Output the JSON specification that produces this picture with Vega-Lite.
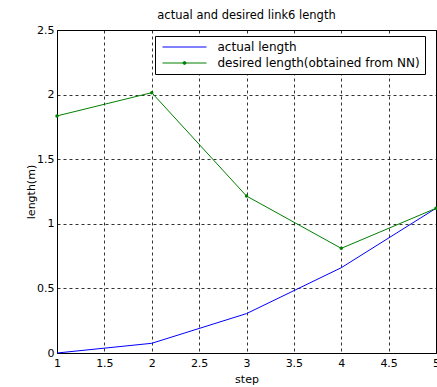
{
  "$schema": "https://vega.github.io/schema/vega-lite/v6.json",
  "autosize": "none",
  "width": 379,
  "height": 323,
  "padding": {"left": 57, "top": 30, "right": 1, "bottom": 34},
  "background": "white",
  "title": {"text": "actual and desired link6 length", "font": "DejaVu Sans", "fontSize": 11.5, "fontWeight": "normal", "color": "#000000", "offset": 3},
  "config": {
    "view": {"stroke": "#000000", "strokeWidth": 1},
    "axis": {"labelFont": "DejaVu Sans", "titleFont": "DejaVu Sans", "labelFontSize": 11, "titleFontSize": 11, "titleFontWeight": "normal", "labelColor": "#000000", "titleColor": "#000000", "domainColor": "#000000", "tickColor": "#000000", "gridColor": "#000000", "gridDash": [3, 3], "gridOpacity": 0.8, "gridWidth": 1}
  },
  "data": {"values": [
    {"step": 1, "length": 0.0, "series": "actual length"},
    {"step": 2, "length": 0.075, "series": "actual length"},
    {"step": 3, "length": 0.305, "series": "actual length"},
    {"step": 4, "length": 0.66, "series": "actual length"},
    {"step": 5, "length": 1.12, "series": "actual length"},
    {"step": 1, "length": 1.835, "series": "desired length(obtained from NN)"},
    {"step": 2, "length": 2.015, "series": "desired length(obtained from NN)"},
    {"step": 3, "length": 1.215, "series": "desired length(obtained from NN)"},
    {"step": 4, "length": 0.81, "series": "desired length(obtained from NN)"},
    {"step": 5, "length": 1.12, "series": "desired length(obtained from NN)"}
  ]},
  "layer": [
    {
      "mark": {"type": "line", "strokeWidth": 1, "point": false},
      "encoding": {
        "x": {"field": "step", "type": "quantitative", "scale": {"domain": [1, 5], "nice": false, "zero": false}, "axis": {"title": "step", "values": [1, 1.5, 2, 2.5, 3, 3.5, 4, 4.5, 5], "format": "~g", "tickSize": 0, "labelPadding": 4, "titlePadding": 5, "labelFlush": false}},
        "y": {"field": "length", "type": "quantitative", "scale": {"domain": [0, 2.5], "nice": false}, "axis": {"title": "length(m)", "values": [0, 0.5, 1, 1.5, 2, 2.5], "format": "~g", "tickSize": 0, "labelPadding": 3, "titlePadding": 0, "labelFlush": false}},
        "color": {"field": "series", "type": "nominal", "scale": {"domain": ["actual length", "desired length(obtained from NN)"], "range": ["#0000ff", "#008000"]},
          "legend": {"title": null, "orient": "none", "legendX": 98, "legendY": 6, "direction": "vertical", "fillColor": "#ffffff", "strokeColor": "#000000", "padding": 5, "rowPadding": 4, "symbolType": "stroke", "symbolSize": 121, "symbolOffset": 18.5, "symbolStrokeWidth": 1, "labelFont": "DejaVu Sans", "labelFontSize": 12, "labelColor": "#000000", "labelOffset": 27, "labelLimit": 400, "offset": 0,
            "encode": {"symbols": {"update": {
              "shape": {"signal": "datum.value === 'actual length' ? 'M-4,0L4,0' : 'M-4,0L4,0M-0.27,0A0.27,0.27,0,1,0,0.27,0A0.27,0.27,0,1,0,-0.27,0Z'"},
              "fill": {"signal": "datum.value === 'actual length' ? 'transparent' : '#008000'"},
              "stroke": {"signal": "datum.value === 'actual length' ? '#0000ff' : '#008000'"}
            }}}}
        }
      }
    },
    {
      "transform": [{"filter": "datum.series !== 'actual length'"}],
      "mark": {"type": "point", "filled": true, "size": 12, "color": "#008000", "opacity": 1},
      "encoding": {
        "x": {"field": "step", "type": "quantitative"},
        "y": {"field": "length", "type": "quantitative"}
      }
    }
  ]
}
